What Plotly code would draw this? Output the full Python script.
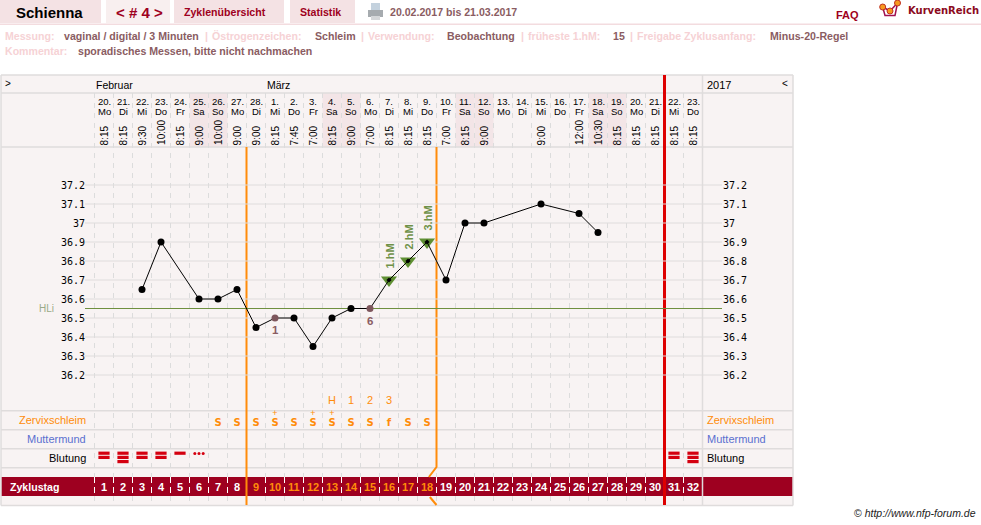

import plotly.graph_objects as go

# Data
cycle_days = list(range(1, 33))
date_days = [20, 21, 22, 23, 24, 25, 26, 27, 28, 1, 2, 3, 4, 5, 6, 7, 8, 9, 10, 11, 12, 13, 14, 15, 16, 17, 18, 19, 20, 21, 22, 23]
weekdays = ['Mo', 'Di', 'Mi', 'Do', 'Fr', 'Sa', 'So'] * 4 + ['Mo', 'Di', 'Mi', 'Do']
times = ['8:15', '8:15', '9:30', '10:00', '8:15', '9:00', '10:00', '9:00', '9:00', '8:15', '7:45', '7:00',
         '8:15', '9:00', '7:00', '8:15', '8:15', '8:15', '7:00', '8:15', '9:00', '', '', '9:00', '', '12:00',
         '10:30', '8:15', '8:15', '8:15', '8:15', '8:15']
weekend_days = [6, 7, 13, 14, 20, 21, 27, 28]

temp_days = [3, 4, 6, 7, 8, 9, 10, 11, 12, 13, 14, 15, 16, 17, 18, 19, 20, 21, 24, 26, 27]
temp_values = [36.65, 36.9, 36.6, 36.6, 36.65, 36.45, 36.5, 36.5, 36.35, 36.5, 36.55, 36.55, 36.7, 36.8, 36.9,
               36.7, 37.0, 37.0, 37.1, 37.05, 36.95]
low_days = [10, 15]
low_labels = ['1', '6']
high_days = [16, 17, 18]
high_labels = ['1.hM', '2.hM', '3.hM']
hli_value = 36.55

temp_ticks = [37.2, 37.1, 37.0, 36.9, 36.8, 36.7, 36.6, 36.5, 36.4, 36.3, 36.2]
temp_ticktext = ['37.2', '37.1', '37', '36.9', '36.8', '36.7', '36.6', '36.5', '36.4', '36.3', '36.2']

peak_days = [13, 14, 15, 16]
peak_labels = ['H', '1', '2', '3']
mucus_days = [7, 8, 9, 10, 11, 12, 13, 14, 15, 16, 17, 18]
mucus_codes = ['S', 'S', 'S', 'S', 'S', 'S', 'S', 'S', 'S', 'f', 'S', 'S']
mucus_plus_days = [10, 12, 13]

bleed_days = [1, 2, 3, 4, 5, 31, 32]
bleed_bars = [2, 3, 2, 2, 1, 2, 3]
spotting_day = 6

# Colours
PANEL = '#f8f3f3'
TAB = '#f4e2e4'
TAB_LIGHT = '#f8efef'
RULE = '#dfdcdc'
DARKRED = '#9e0020'
ORANGE = '#ff8c0a'
MUTED = '#8a5c62'
PALE = '#f6d2d5'
GREEN = '#5f8f33'

# Chart geometry: one day is 19px wide, 0.1 degrees is 19px high
W, H = 981, 525
DAY1_PX, DAY_W = 104, 19
T372_PX, T_STEP = 185, 190


def day_at(px):
    return 1 + (px - DAY1_PX) / DAY_W


def temp_at(py):
    return 37.2 - (py - T372_PX) / T_STEP


fig = go.Figure()
shapes = []
annotations = []


def rect(x0, y0, x1, y1, color):
    shapes.append(dict(type='rect', xref='x', yref='y', x0=x0, y0=y0, x1=x1, y1=y1,
                       fillcolor=color, line_width=0, layer='below'))


def hline(y, x0=1, x1=793, color=RULE, width=1.5):
    shapes.append(dict(type='line', xref='x', yref='y', x0=x0, x1=x1, y0=y, y1=y,
                       line=dict(color=color, width=width), layer='below'))


def vline(x, y0, y1, color=RULE, width=1.5):
    shapes.append(dict(type='line', xref='x', yref='y', x0=x, x1=x, y0=y0, y1=y1,
                       line=dict(color=color, width=width), layer='below'))


def label(x, y, text, size=11, color='black', bold=False, anchor='left', family='Liberation Sans', xref='x', angle=0, yanchor='middle'):
    annotations.append(dict(xref=xref, yref='y', x=x, y=y, text='<b>%s</b>' % text if bold else text,
                            showarrow=False, xanchor=anchor, yanchor=yanchor, textangle=angle,
                            font=dict(family=family, size=size, color=color),
                            borderpad=0, borderwidth=0))


# Header tabs
rect(0, 0, 101, 23, TAB)
rect(106, 0, 170, 23, TAB_LIGHT)
rect(174, 0, 284, 23, TAB)
rect(290, 0, 355, 23, TAB)
rect(0, 23.5, 981, 25, '#f3dcdf')

label(16, 12.5, 'Schienna', size=15, bold=True)
label(116, 12.5, '&lt; # 4 &gt;', size=15, color=DARKRED, bold=True)
label(184, 12, 'Zyklenübersicht', size=10.6, color=DARKRED, bold=True)
label(300, 12, 'Statistik', size=10.6, color=DARKRED, bold=True)
label(390, 12, '20.02.2017 bis 21.03.2017', size=10.6, color=MUTED, bold=True)
label(836, 14.5, 'FAQ', size=11, color=DARKRED, bold=True)
label(908, 10.5, 'KurvenReich', size=10, color='#8b0a20', bold=True, family='DejaVu Sans')

# Printer icon
rect(371, 3, 380, 10, '#c4d2de')
rect(368, 10, 383, 17, '#a6abaf')
rect(371, 16, 380, 20, '#d5d7d9')

# Settings lines
for x, text in [(5, 'Messung:'), (205, '|'), (212, 'Östrogenzeichen:'), (361, '|'), (368, 'Verwendung:'),
                (521, '|'), (528, 'früheste 1.hM:'), (630, '|'), (637, 'Freigabe Zyklusanfang:')]:
    label(x, 36, text, size=10.6, color=PALE, bold=True)
for x, text in [(64, 'vaginal / digital / 3 Minuten'), (315, 'Schleim'), (447, 'Beobachtung'), (613, '15'),
                (770, 'Minus-20-Regel')]:
    label(x, 36, text, size=10.6, color=MUTED, bold=True)
label(5, 51, 'Kommentar:', size=10.6, color=PALE, bold=True)
label(78, 51, 'sporadisches Messen, bitte nicht nachmachen', size=10.6, color=MUTED, bold=True)

# Panel
rect(1, 75, 793, 505.5, PANEL)
for d in weekend_days:
    shapes.append(dict(type='rect', xref='x2', yref='y', x0=d - 0.5, x1=d + 0.5, y0=93, y1=147,
                       fillcolor='#f3e5e7', line_width=0, layer='below'))
rect(1, 477, 793, 496, DARKRED)
for y in [75, 93, 147, 410.7, 429.7, 448.7, 467.7, 505.5]:
    hline(y)
vline(1, 75, 505.5)
vline(702.5, 75, 505.5)
vline(793, 75, 505.5)

label(5, 83, '&gt;', size=10)
label(96, 85, 'Februar', size=10.5)
label(267, 85, 'März', size=10.5)
label(707, 85, '2017', size=11)
label(782, 83, '&lt;', size=10)

# Day columns
edges = [d + 0.5 for d in range(0, 32)]
dash_x, dash_y, band_x, band_y = [], [], [], []
for e in edges:
    dash_x += [e, e, None, e, e, None]
    dash_y += [93, 477, None, 496, 505, None]
    band_x += [e, e, None]
    band_y += [477, 496, None]
fig.add_trace(go.Scatter(x=dash_x, y=dash_y, xaxis='x2', yaxis='y', mode='lines', hoverinfo='skip',
                         line=dict(color='#dcdcdc', width=1, dash='5px,5px')))
fig.add_trace(go.Scatter(x=band_x, y=band_y, xaxis='x2', yaxis='y', mode='lines', hoverinfo='skip',
                         line=dict(color='white', width=1, dash='6px,4px')))

for d, num, wd, t in zip(cycle_days, date_days, weekdays, times):
    label(d, 101.5, '%d.' % num, size=9.5, anchor='center', xref='x2')
    label(d, 111.5, wd, size=9.5, anchor='center', xref='x2')
    if t:
        label(d + 0.02, 145, t, size=10, anchor='center', xref='x2', angle=-90, yanchor='bottom')
    in_phase = 9 <= d <= 18
    label(d, 486.5, d, size=11, color=ORANGE if in_phase else 'white', bold=True, anchor='center', xref='x2')

label(10, 486.5, 'Zyklustag', size=10.6, color='white', bold=True)

# Row captions
for y, text, color in [(420, 'Zervixschleim', ORANGE), (439, 'Muttermund', '#5a70d0'), (458, 'Blutung', 'black')]:
    label(85.5, y, text, color=color, anchor='right')
    label(707, y, text, color=color)

# Temperature grid, HLi line
grid_x, grid_y = [], []
for t in temp_ticks:
    grid_x += [day_at(85), day_at(722), None]
    grid_y += [t, t, None]
fig.add_trace(go.Scatter(x=grid_x, y=grid_y, xaxis='x2', yaxis='y2', mode='lines', hoverinfo='skip',
                         line=dict(color=RULE, width=1)))
fig.add_trace(go.Scatter(x=[day_at(85), day_at(722)], y=[hli_value, hli_value], xaxis='x2', yaxis='y2', mode='lines',
                         hoverinfo='skip', line=dict(color='#6f9040', width=1)))
annotations.append(dict(xref='x', yref='y2', x=56, y=hli_value, text='HLi', showarrow=False, xanchor='right',
                        font=dict(family='Liberation Sans', size=10, color='#9aaa88')))

# Phase lines
for x_vals, y_vals in [([8.5, 8.5], [147, 505]),
                       ([18.5, 18.5, 18.1], [147, 467, 477]),
                       ([18.15, 18.5], [497, 505])]:
    fig.add_trace(go.Scatter(x=x_vals, y=y_vals, xaxis='x2', yaxis='y', mode='lines', hoverinfo='skip',
                             line=dict(color=ORANGE, width=2)))
fig.add_trace(go.Scatter(x=[30.5, 30.5], y=[75, 505], xaxis='x2', yaxis='y', mode='lines', hoverinfo='skip',
                         line=dict(color='#dd0000', width=3)))

# Curve
temp_by_day = dict(zip(temp_days, temp_values))
high_vals = [temp_by_day[d] for d in high_days]
low_vals = [temp_by_day[d] for d in low_days]
normal_days = [d for d in temp_days if d not in high_days and d not in low_days]
normal_vals = [temp_by_day[d] for d in normal_days]

fig.add_trace(go.Scatter(x=high_days, y=high_vals, xaxis='x2', yaxis='y2', mode='markers', hoverinfo='skip',
                         marker=dict(symbol='triangle-down', size=14, color=GREEN)))
fig.add_trace(go.Scatter(x=temp_days, y=temp_values, xaxis='x2', yaxis='y2', mode='lines', hoverinfo='skip',
                         line=dict(color='black', width=1)))
fig.add_trace(go.Scatter(x=normal_days, y=normal_vals, xaxis='x2', yaxis='y2', mode='markers', hoverinfo='skip',
                         marker=dict(size=7, color='black')))
fig.add_trace(go.Scatter(x=high_days, y=high_vals, xaxis='x2', yaxis='y2', mode='markers', hoverinfo='skip',
                         marker=dict(symbol='diamond', size=4, color='black')))
fig.add_trace(go.Scatter(x=low_days, y=low_vals, xaxis='x2', yaxis='y2', mode='markers', hoverinfo='skip',
                         marker=dict(size=7, color='#7d565c')))
for d, v, text in zip(low_days, low_vals, low_labels):
    annotations.append(dict(xref='x2', yref='y2', x=d, y=v, text='<b>%s</b>' % text, showarrow=False,
                            xanchor='center', yanchor='middle', yshift=-12,
                            font=dict(family='Liberation Sans', size=11.5, color=MUTED)))
for d, v, text in zip(high_days, high_vals, high_labels):
    annotations.append(dict(xref='x2', yref='y2', x=d, y=v, text='<b>%s</b>' % text, showarrow=False, textangle=-90,
                            xanchor='center', yanchor='bottom', yshift=9,
                            font=dict(family='Liberation Sans', size=11, color='#6f9148')))

# Right axis needs something plotted on it
fig.add_trace(go.Scatter(x=temp_days, y=temp_values, xaxis='x2', yaxis='y3', mode='markers', hoverinfo='skip',
                         marker=dict(size=1, opacity=0)))

# Symbol rows
fig.add_trace(go.Scatter(x=peak_days, y=[401] * len(peak_days), xaxis='x2', yaxis='y', mode='text', hoverinfo='skip',
                         text=peak_labels, textfont=dict(family='Liberation Sans', size=11, color=ORANGE)))
fig.add_trace(go.Scatter(x=mucus_days, y=[423] * len(mucus_days), xaxis='x2', yaxis='y', mode='text', hoverinfo='skip',
                         text=['<b>%s</b>' % c for c in mucus_codes],
                         textfont=dict(family='DejaVu Sans', size=10, color=ORANGE)))
fig.add_trace(go.Scatter(x=mucus_plus_days, y=[413.5] * len(mucus_plus_days), xaxis='x2', yaxis='y', mode='text',
                         hoverinfo='skip', text=['+'] * len(mucus_plus_days),
                         textfont=dict(family='Liberation Sans', size=9, color=ORANGE)))

bar_x, bar_y = [], []
for d, n in zip(bleed_days, bleed_bars):
    for i in range(n):
        bar_x.append(d)
        bar_y.append(453.2 + 4.2 * i)
fig.add_trace(go.Scatter(x=bar_x, y=bar_y, xaxis='x2', yaxis='y', mode='markers', hoverinfo='skip',
                         marker=dict(symbol='line-ew', size=8, line=dict(color='#d40010', width=3.2))))
fig.add_trace(go.Scatter(x=[spotting_day - 0.22, spotting_day, spotting_day + 0.22], y=[453.5] * 3, xaxis='x2', yaxis='y',
                         mode='markers', hoverinfo='skip', marker=dict(size=3, color='#d40010')))

# Logo
fig.add_trace(go.Scatter(x=[882.7, 885, 895, 897.5], y=[7, 15.5, 15.5, 3], xaxis='x', yaxis='y', mode='lines',
                         hoverinfo='skip', line=dict(color='#a01050', width=1.5)))
fig.add_trace(go.Scatter(x=[882.7, 890, 897.5], y=[7, 11, 3], xaxis='x', yaxis='y', mode='lines+markers', hoverinfo='skip',
                         line=dict(color='#a01050', width=1.5),
                         marker=dict(size=6, color='#f59a20', line=dict(color='#c03020', width=1))))

label(976, 513, '© <i>http://www.nfp-forum.de</i>', size=10.5, color='#222222', anchor='right')

hidden = dict(visible=False, fixedrange=True)
tick_style = dict(tickmode='array', tickvals=temp_ticks, ticktext=temp_ticktext, showgrid=False, zeroline=False,
                  showline=False, ticks='', anchor='free', overlaying='y', fixedrange=True,
                  range=[temp_at(H), temp_at(0)],
                  tickfont=dict(family='DejaVu Sans Mono', size=10, color='black'))
fig.update_layout(
    width=W, height=H, margin=dict(l=0, r=0, t=0, b=0), autosize=False,
    paper_bgcolor='white', plot_bgcolor='white', showlegend=False, hovermode=False,
    xaxis=dict(range=[0, W], **hidden),
    yaxis=dict(range=[H, 0], **hidden),
    xaxis2=dict(range=[day_at(0), day_at(W)], overlaying='x', **hidden),
    yaxis2=dict(side='left', position=85 / W, **tick_style),
    yaxis3=dict(side='right', position=722 / W, **tick_style),
    shapes=shapes, annotations=annotations,
)

fig.write_html("out.html", config=dict(displayModeBar=False),
               post_script="document.body.style.margin='0';")
